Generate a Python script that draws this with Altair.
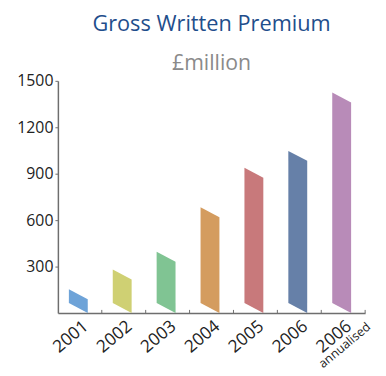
import json
import altair as alt
import pandas as pd

# ---- data ----
years = ["2001", "2002", "2003", "2004", "2005", "2006", "2006"]
notes = ["", "", "", "", "", "", "annualised"]
values = [89, 217, 332, 619, 874, 983, 1360]
colors = ["#6ea3d8", "#cfd073", "#80c493", "#d49c5f", "#c8797b", "#6680a8", "#b88bb8"]
y_ticks = [300, 600, 900, 1200, 1500]

# ---- styling constants ----
BAR_LEFT, BAR_RIGHT = 0.25, 0.68   # fraction of each category slot
SKEW = 64                          # left edge raised (data units) -> slanted bar
FONT = "Open Sans"

rows = []
for i, v in enumerate(values):
    rows.append({"bar": i, "x": i + BAR_LEFT, "top": v + SKEW, "bottom": SKEW})
    rows.append({"bar": i, "x": i + BAR_RIGHT, "top": v, "bottom": 0})
bars_df = pd.DataFrame(rows)

n = len(years)
label_expr = json.dumps(years) + "[floor(datum.value)]"

xscale = alt.Scale(domain=[0, n], nice=False, zero=False)
yscale = alt.Scale(domain=[0, 1500], nice=False)

bars = alt.Chart(bars_df).mark_area(interpolate="linear", opacity=1).encode(
    x=alt.X("x:Q", scale=xscale,
            axis=alt.Axis(values=[i + 0.5 for i in range(n)], labelExpr=label_expr,
                          ticks=False, tickSize=0, grid=False, domainColor="#6e6e6e",
                          domainWidth=1.5, labelAngle=-40, labelAlign="right",
                          labelBaseline="top", labelFontSize=17.5, labelColor="#222",
                          labelFont=FONT, labelPadding=4, title=None)),
    y=alt.Y("top:Q", scale=yscale,
            axis=alt.Axis(values=y_ticks, format="d", grid=False, domainColor="#6e6e6e",
                          domainWidth=1.5, tickColor="#6e6e6e", tickSize=3,
                          labelFontSize=16, labelColor="#222", labelFont=FONT,
                          labelPadding=2, title=None)),
    y2="bottom:Q",
    color=alt.Color("bar:N", scale=alt.Scale(domain=list(range(n)), range=colors), legend=None),
    detail="bar:N",
)

tick_df = pd.DataFrame({"t": list(range(1, n + 1)), "y0": 0, "y1": 20})
ticks = alt.Chart(tick_df).mark_rule(color="#6e6e6e", strokeWidth=1).encode(
    x=alt.X("t:Q", scale=xscale), y=alt.Y("y0:Q", scale=yscale), y2="y1:Q"
)

note_df = pd.DataFrame({"x": [i + 0.5 for i in range(n)], "y": 0, "note": notes})
note_df = note_df[note_df["note"] != ""]
note_text = alt.Chart(note_df).mark_text(
    angle=320, align="right", baseline="top", dx=12, dy=20,
    fontSize=12.5, font=FONT, color="#222"
).encode(x=alt.X("x:Q", scale=xscale), y=alt.Y("y:Q", scale=yscale), text="note:N")

chart = alt.layer(bars, ticks, note_text).properties(
    width=311, height=235,
    padding={"left": 8.5, "top": 3.5, "right": 5, "bottom": 0},
    title=alt.TitleParams(
        "Gross Written Premium", subtitle="£million",
        font=FONT, fontSize=22, fontWeight="normal", color="#1f4e8c",
        subtitleFont=FONT, subtitleFontSize=21.5, subtitleColor="#8a8a8a",
        subtitlePadding=17, anchor="middle", offset=-2.5,
    ),
).configure_view(stroke=None)

chart.save("out.html", embed_options={"renderer": "svg", "actions": False})
